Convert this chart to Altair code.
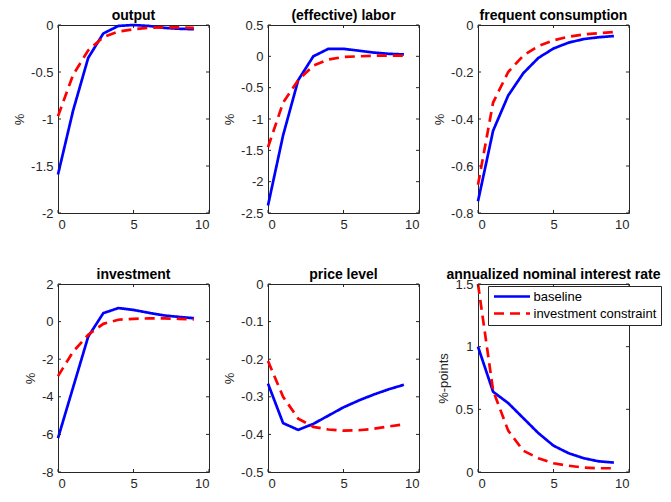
import altair as alt
import pandas as pd

# ---- data ----
t = [0, 1, 2, 3, 4, 5, 6, 7, 8, 9]
series_names = ["baseline", "investment constraint"]
titles = ["output", "(effective) labor", "frequent consumption",
          "investment", "price level", "annualized nominal interest rate"]
ylabels = ["%", "%", "%", "%", "%", "%-points"]

output_base = [-1.59, -0.91, -0.35, -0.09, -0.01, 0.0, -0.01, -0.03, -0.04, -0.045]
output_ic = [-0.97, -0.53, -0.27, -0.13, -0.07, -0.045, -0.03, -0.025, -0.025, -0.03]
labor_base = [-2.38, -1.26, -0.38, 0.0, 0.12, 0.12, 0.09, 0.06, 0.04, 0.03]
labor_ic = [-1.45, -0.74, -0.38, -0.15, -0.05, -0.01, 0.0, 0.01, 0.01, 0.01]
cons_base = [-0.75, -0.45, -0.30, -0.205, -0.14, -0.10, -0.075, -0.06, -0.052, -0.047]
cons_ic = [-0.68, -0.33, -0.20, -0.13, -0.09, -0.065, -0.05, -0.04, -0.035, -0.03]
inv_base = [-6.2, -3.5, -0.8, 0.45, 0.72, 0.62, 0.47, 0.33, 0.25, 0.18]
inv_ic = [-2.9, -1.6, -0.7, -0.12, 0.1, 0.15, 0.17, 0.17, 0.15, 0.12]
price_base = [-0.265, -0.37, -0.388, -0.372, -0.35, -0.328, -0.31, -0.294, -0.28, -0.268]
price_ic = [-0.205, -0.30, -0.358, -0.38, -0.387, -0.39, -0.389, -0.385, -0.379, -0.373]
rate_base = [1.0, 0.64, 0.55, 0.43, 0.31, 0.21, 0.15, 0.11, 0.085, 0.075]
rate_ic = [1.5, 0.65, 0.33, 0.17, 0.11, 0.07, 0.05, 0.035, 0.03, 0.03]

base_all = [output_base, labor_base, cons_base, inv_base, price_base, rate_base]
ic_all = [output_ic, labor_ic, cons_ic, inv_ic, price_ic, rate_ic]

y_domains = [[-2, 0], [-2.5, 0.5], [-0.8, 0], [-8, 2], [-0.5, 0], [0, 1.5]]
y_ticks = [[-2, -1.5, -1, -0.5, 0],
           [-2.5, -2, -1.5, -1, -0.5, 0, 0.5],
           [-0.8, -0.6, -0.4, -0.2, 0],
           [-8, -6, -4, -2, 0, 2],
           [-0.5, -0.4, -0.3, -0.2, -0.1, 0],
           [0, 0.5, 1, 1.5]]
x_ticks = [0, 5, 10]

# ---- styling ----
W, H = 151, 188
FONT = "Liberation Sans"
AX = "#262626"
TL = 3  # inward tick length


def panel(i):
    df = pd.DataFrame({
        "t": t + t,
        "v": base_all[i] + ic_all[i],
        "s": [series_names[0]] * len(t) + [series_names[1]] * len(t),
    })
    xenc = alt.X("t:Q",
                 scale=alt.Scale(domain=[0, 10], nice=False, zero=False),
                 axis=alt.Axis(values=x_ticks, title=None,
                               labelExpr="toString(datum.value)"))
    yenc = alt.Y("v:Q",
                 scale=alt.Scale(domain=y_domains[i], nice=False, zero=False),
                 axis=alt.Axis(values=y_ticks[i], title=ylabels[i],
                               labelExpr="toString(datum.value)"))
    if i == 5:
        legend = alt.Legend(orient="none", legendX=10, legendY=2, title=None,
                            symbolType="M-3.6,0H3.6", symbolSize=100,
                            symbolStrokeWidth=2.7, symbolOffset=13.5,
                            labelFontSize=13, labelFont=FONT,
                            labelColor="#000000", labelOffset=15,
                            fillColor="white", strokeColor=AX,
                            padding=4, rowPadding=3)
    else:
        legend = None
    lines = alt.Chart(df).mark_line(strokeWidth=2.7).encode(
        x=xenc, y=yenc,
        color=alt.Color("s:N", scale=alt.Scale(domain=series_names,
                                               range=["#0000ff", "#ff0000"]),
                        legend=legend),
        strokeDash=alt.StrokeDash("s:N", scale=alt.Scale(domain=series_names,
                                                         range=[[1, 0], [10, 6]]),
                                  legend=legend),
    )
    ydf = pd.DataFrame({"v": y_ticks[i]})
    xdf = pd.DataFrame({"t": x_ticks})
    rs = dict(color=AX, strokeWidth=1)
    yl = alt.Chart(ydf).mark_rule(**rs).encode(y=yenc, x=alt.value(0), x2=alt.value(TL))
    yr = alt.Chart(ydf).mark_rule(**rs).encode(y=yenc, x=alt.value(W - TL), x2=alt.value(W))
    xb = alt.Chart(xdf).mark_rule(**rs).encode(x=xenc, y=alt.value(H), y2=alt.value(H - TL))
    xt = alt.Chart(xdf).mark_rule(**rs).encode(x=xenc, y=alt.value(0), y2=alt.value(TL))
    ttl = alt.Chart(pd.DataFrame({"title": [titles[i]]})).mark_text(
        font=FONT, fontSize=14, fontWeight="bold", color="#000000",
        align="center", baseline="alphabetic"
    ).encode(x=alt.value(W / 2), y=alt.value(-5), text="title:N")
    return alt.layer(lines, yl, yr, xb, xt, ttl).properties(width=W, height=H)


chart = alt.concat(*[panel(i) for i in range(6)], columns=3,
                   spacing={"row": 71, "column": 59}, bounds="flush").resolve_scale(
    color="independent", strokeDash="independent"
).properties(
    padding={"left": 5, "top": 0, "right": 0, "bottom": 0}
).configure_view(
    stroke=AX, strokeWidth=1
).configure_axis(
    labelFont=FONT, labelFontSize=13, labelColor=AX, ticks=False, domain=False,
    grid=False, labelPadding=5, titleFont=FONT, titleFontSize=13,
    titleFontWeight="normal", titleColor=AX, titlePadding=4
)

chart.save("out.html", embed_options={"renderer": "svg", "actions": False})
